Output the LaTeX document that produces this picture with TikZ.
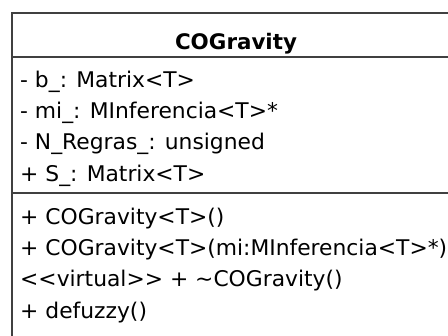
\documentclass[tikz,border=0pt]{standalone}
\usepackage{fontspec}
\setmainfont{DejaVu Sans}
\newfontfamily\memberfont{DejaVu Sans}[FakeStretch=1.01]
\usetikzlibrary{positioning}

\begin{document}
\begin{tikzpicture}[
    x=1pt, y=-1pt,
    node distance=0pt,
    member/.style={anchor=north west, font=\memberfont\fontsize{21.6}{26}\selectfont, text height=16pt, text depth=5pt, inner xsep=0pt, inner ysep=5pt},
    classname/.style={anchor=base, font=\fontsize{21.4}{26}\selectfont\bfseries, inner sep=0pt},
    frame/.style={line width=2pt, draw=black!75},
]
\useasboundingbox (0,0) rectangle (448,336);
\clip (0,0) rectangle (448,336);

% Class box (runs off the right and bottom edge)
\node[frame, anchor=north west, inner sep=0pt, minimum width=451pt, minimum height=340pt] (cls) at (11,12) {};
\coordinate (sepA) at (11,57);
\coordinate (sepB) at (11,193);
\draw[frame] (cls.west |- sepA) -- (cls.east |- sepA);
\draw[frame] (cls.west |- sepB) -- (cls.east |- sepB);

% Name
\node[classname] (name) at (236,50) {COGravity};

% Attributes
\node[member] (b) at (20,66) {- b\_: Matrix<T>};
\node[member, below=of b.south west, anchor=north west] (mi) {- mi\_: MInferencia<T>*};
\node[member, below=of mi.south west, anchor=north west] (nreg) {- N\_Regras\_: unsigned};
\node[member, below=of nreg.south west, anchor=north west] (s) {+ S\_: Matrix<T>};

% Operations
\node[member] (ctor) at (20,203) {+ COGravity<T>()};
\node[member, below=of ctor.south west, anchor=north west] (ctormi) {+ COGravity<T>(mi:MInferencia<T>*)};
\node[member, below=of ctormi.south west, anchor=north west] (dtor) {<{}<virtual>{}> + \textasciitilde COGravity()};
\node[member, below=of dtor.south west, anchor=north west] (defuzzy) {+ defuzzy()};
\end{tikzpicture}
\end{document}
